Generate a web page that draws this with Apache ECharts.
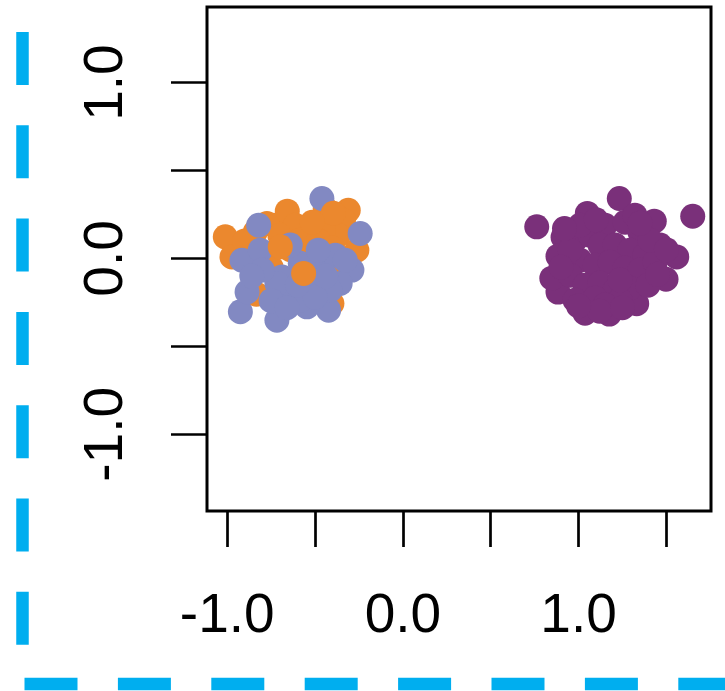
<!DOCTYPE html>
<html>
<head>
<meta charset="utf-8">
<script src="https://cdn.jsdelivr.net/npm/echarts@6/dist/echarts.min.js"></script>
<style>
html,body{margin:0;padding:0;background:#fff;}
#chart{width:725px;height:691px;}
</style>
</head>
<body>
<div id="chart"></div>
<script>
// ---- data ----
var purplePoints = [
  [0.762,0.180],[1.650,0.240],[1.232,0.341],[1.050,0.256],[0.912,0.121],[1.431,0.212],
  [1.559,0.009],[1.498,-0.118],[1.331,-0.257],[1.175,-0.316],[1.037,-0.311],[0.883,-0.191],
  [0.848,-0.112],[0.883,0.013],
  [0.980,0.104],[1.065,0.132],[1.151,0.189],[1.265,0.206],[1.350,0.149],[1.122,0.076],
  [1.208,0.076],[1.293,0.047],[1.378,0.019],[1.464,0.076],[1.009,-0.010],[1.094,-0.038],
  [1.180,-0.021],[1.265,-0.055],[1.350,-0.066],[1.435,-0.021],[0.952,-0.095],[1.037,-0.152],
  [1.122,-0.140],[1.208,-0.180],[1.293,-0.169],[0.980,-0.237],[1.094,-0.226],[1.236,-0.237],
  [1.151,-0.265],[1.321,0.246],[1.009,0.189],[1.407,0.104],[0.952,0.047],[1.236,-0.123],
  [1.395,-0.152],[0.900,-0.050],[0.920,0.170],[1.100,0.220],[1.500,0.050],[1.450,-0.090],
  [1.120,-0.300],[1.250,-0.280],[1.000,-0.270],[1.350,0.200]
];
var orangeLowPoints = [
  [-1.011,0.123],[-0.973,0.009],[-0.840,0.151],[-0.726,0.189],[-0.658,0.269],[-0.442,0.284],
  [-0.311,0.274],[-0.338,0.218],[-0.368,0.132],[-0.262,0.047],[-0.527,0.151],[-0.452,0.161],
  [-0.774,0.199],[-0.802,0.009],[-0.834,-0.203],[-0.404,-0.256],[-0.613,0.189],[-0.584,0.104],
  [-0.700,0.130],[-0.640,0.050],[-0.480,0.100],[-0.400,0.060],[-0.900,0.100],[-0.750,-0.050],
  [-0.550,0.000],[-0.350,-0.080]
];
var lavenderPoints = [
  [-0.461,0.341],[-0.243,0.142],[-0.290,-0.066],[-0.357,-0.142],[-0.423,-0.294],[-0.717,-0.351],
  [-0.925,-0.303],[-0.887,-0.190],[-0.916,-0.010],[-0.812,0.047],[-0.821,0.189],[-0.509,-0.161],
  [-0.622,-0.218],[-0.688,-0.105],[-0.546,-0.275],[-0.584,-0.027],[-0.717,-0.142],[-0.800,-0.066],
  [-0.470,-0.038],[-0.385,0.019],[-0.584,-0.237],[-0.641,0.076],[-0.482,0.047],[-0.328,-0.010],
  [-0.414,-0.180],[-0.750,-0.240],[-0.660,-0.280],[-0.500,-0.220],[-0.440,-0.100],[-0.860,-0.100],
  [-0.600,-0.150]
];
var orangeHighPoints = [
  [-0.565,-0.085],[-0.698,0.066],[-0.396,0.257],[-0.516,0.206]
];
var xTicks = [-1.0,-0.5,0.0,0.5,1.0,1.5];
var xLabels = [-1.0,0.0,1.0];
var yTicks = [-1.0,-0.5,0.0,0.5,1.0];
var yLabels = [-1.0,0.0,1.0];

var ORANGE = '#EB882E', LAVENDER = '#8289C2', PURPLE = '#7A307A', BLUE = '#00AEEF';
var FONT = 'Liberation Sans, Arial, sans-serif';

var chart = echarts.init(document.getElementById('chart'), null, {renderer:'canvas'});
function sc(name, data, color){
  return {name:name, type:'scatter', data:data, symbol:'circle', symbolSize:25,
    itemStyle:{color:color, opacity:1}, emphasis:{disabled:true}, animation:false};
}
chart.setOption({
  animation:false,
  backgroundColor:'#fff',
  grid:{left:207, right:14, top:7, bottom:180, show:true, borderColor:'#000', borderWidth:3, containLabel:false},
  xAxis:{type:'value', min:-1.115, max:1.754, position:'bottom',
    axisLine:{show:false, onZero:false},
    splitLine:{show:false},
    axisTick:{show:true, inside:false, length:36, customValues:xTicks, lineStyle:{color:'#000', width:2.7}},
    axisLabel:{show:true, customValues:xLabels, margin:78, color:'#000', fontSize:55, fontFamily:FONT,
      formatter:function(v){return v.toFixed(1);}}
  },
  yAxis:{type:'value', min:-1.436, max:1.43, position:'left',
    axisLine:{show:false, onZero:false},
    splitLine:{show:false},
    axisTick:{show:true, inside:false, length:36, customValues:yTicks, lineStyle:{color:'#000', width:2.7}},
    axisLabel:{show:true, customValues:yLabels, rotate:90, margin:73, color:'#000', fontSize:55, fontFamily:FONT,
      formatter:function(v){return v.toFixed(1);}}
  },
  series:[
    sc('orangeLow', orangeLowPoints, ORANGE),
    sc('lavender', lavenderPoints, LAVENDER),
    sc('orangeHigh', orangeHighPoints, ORANGE),
    sc('purple', purplePoints, PURPLE)
  ],
  graphic:[
    {type:'line', shape:{x1:22.5, y1:32, x2:22.5, y2:646}, style:{stroke:BLUE, lineWidth:12.5, lineDash:[53,40.3], lineCap:'butt'}, silent:true},
    {type:'line', shape:{x1:24.5, y1:684, x2:725, y2:684}, style:{stroke:BLUE, lineWidth:12.5, lineDash:[53,40.4], lineCap:'butt'}, silent:true}
  ]
});
</script>
</body>
</html>
